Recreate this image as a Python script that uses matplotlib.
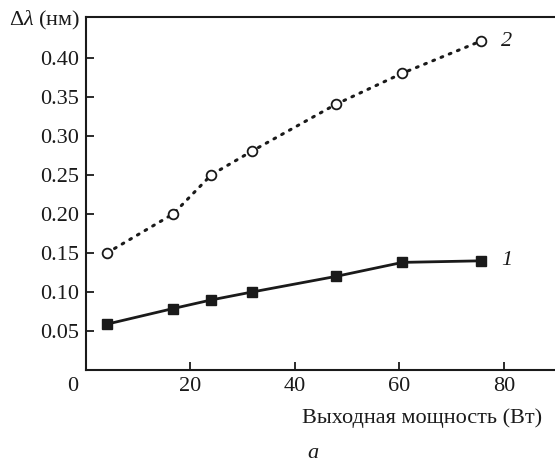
import matplotlib
matplotlib.use("Agg")
import matplotlib.pyplot as plt
import matplotlib.transforms as mtransforms

plt.rcParams['font.family'] = ['Liberation Serif', 'DejaVu Serif']
plt.rcParams['mathtext.fontset'] = 'custom'
plt.rcParams['mathtext.rm'] = 'Liberation Serif'
plt.rcParams['mathtext.it'] = 'Liberation Serif:italic'

# Data
power1 = [4, 16.7, 24, 31.7, 47.8, 60.6, 75.6]
dlambda1 = [0.059, 0.079, 0.090, 0.100, 0.120, 0.138, 0.140]
power2 = [4, 16.7, 24, 31.7, 47.8, 60.6, 75.6]
dlambda2 = [0.150, 0.200, 0.250, 0.280, 0.340, 0.380, 0.421]
xticks = [20, 40, 60, 80]
yticks = [0.05, 0.10, 0.15, 0.20, 0.25, 0.30, 0.35, 0.40]

FS = 16

fig = plt.figure(figsize=(5.55, 4.61), dpi=100)
ax = fig.add_axes([86/555, 1-370.3/461, 1-86/555, (370.3-17)/461])

ax.plot(power1, dlambda1, color='#1a1a1a', lw=2.0, marker='s', ms=6.5,
        mfc='#1a1a1a', mec='#1a1a1a', zorder=3)
ax.plot(power2, dlambda2, color='#1a1a1a', lw=2.2, linestyle=(0, (0.6, 2.3)),
        dash_capstyle='round', marker='o', ms=7, mfc='white', mec='#1a1a1a',
        mew=1.3, zorder=3)

ax.set_xlim(0, 89.8)
ax.set_ylim(0, 0.4518)
ax.set_xticks(xticks)
ax.set_yticks(yticks)
ax.set_xticklabels([str(v) for v in xticks])
ax.set_yticklabels([f"{v:.2f}" for v in yticks])
ax.tick_params(direction='in', length=6, width=1.3, labelsize=FS, colors='#1a1a1a')
ax.tick_params(axis='x', pad=5)
ax.tick_params(axis='y', pad=5)

for s in ['left', 'bottom', 'top']:
    ax.spines[s].set_linewidth(1.5)
    ax.spines[s].set_color('#1a1a1a')
ax.spines['right'].set_visible(False)

trans = mtransforms.blended_transform_factory(ax.transData, ax.transAxes)
ax.text(-2.5, -7/353.3, "0", transform=trans, ha='center', va='top', fontsize=FS,
        color='#1a1a1a')

ax.text(79.5, 0.421, "2", fontsize=FS, style='italic', va='center', ha='left', color='#1a1a1a')
ax.text(79.5, 0.140, "1", fontsize=FS, style='italic', va='center', ha='left', color='#1a1a1a')

fig.text(80/555, 1-20/461, "Δ$\\mathit{\\lambda}$ (нм)", ha='right', va='center',
         fontsize=FS, color='#1a1a1a')
fig.text(422/555, 1-418/461, "Выходная мощность (Вт)", ha='center', va='center',
         fontsize=FS, color='#1a1a1a')
fig.text(313/555, 1-453/461, "a", ha='center', va='center', fontsize=FS,
         style='italic', color='#1a1a1a')

fig.savefig("out.png", dpi=100)
